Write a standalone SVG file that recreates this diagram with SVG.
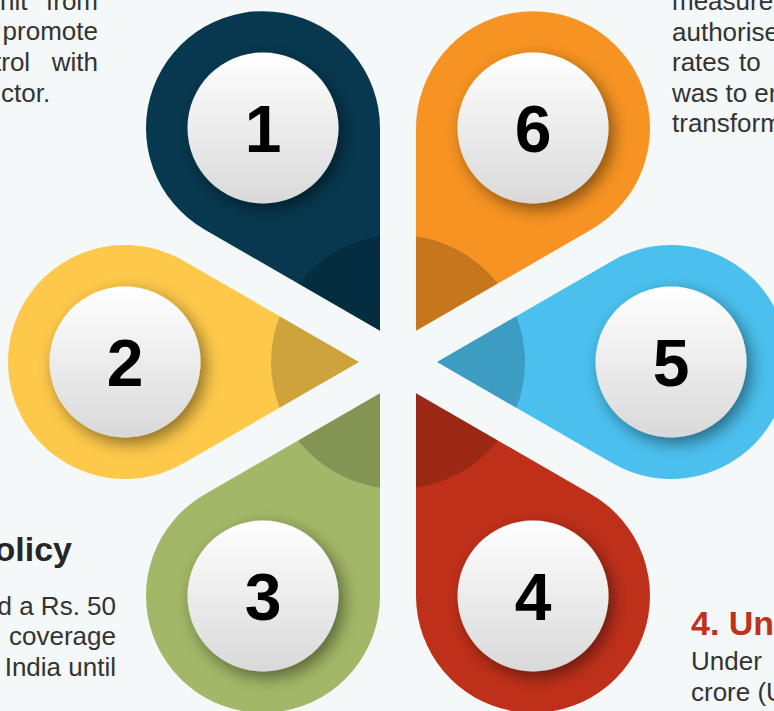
<svg xmlns="http://www.w3.org/2000/svg" width="774" height="711" viewBox="0 0 774 711">
  <defs>
    <style>
      .body { font-family: "Liberation Sans", Arial, sans-serif; font-size: 26px; fill: #333333; }
      .head { font-family: "Liberation Sans", Arial, sans-serif; font-size: 34px; font-weight: bold; }
      .num { font-family: "Liberation Sans", Arial, sans-serif; font-size: 66px; font-weight: bold; fill: #000000; text-anchor: middle; }
      .ball { fill: url(#ballGrad); filter: url(#shadow); }
    </style>
    <linearGradient id="ballGrad" x1="0" y1="0" x2="0" y2="1">
      <stop offset="0" stop-color="#ffffff"/>
      <stop offset="1" stop-color="#d9d9d9"/>
    </linearGradient>
    <filter id="shadow" x="-40%" y="-40%" width="180%" height="180%">
      <feDropShadow dx="5" dy="6" stdDeviation="8" flood-color="#000000" flood-opacity="0.45"/>
    </filter>
    <path id="p1" d="M380 330.82 L380 128.17 A117 117 0 1 0 204.5 229.49 Z"/>
    <path id="p2" d="M359 362 L183.5 260.67 A117 117 0 1 0 183.5 463.33 Z"/>
    <path id="p3" d="M380 393.18 L204.5 494.51 A117 117 0 1 0 380 595.83 Z"/>
    <path id="p4" d="M416 393.18 L416 595.83 A117 117 0 1 0 591.5 494.51 Z"/>
    <path id="p5" d="M437 362 L612.5 463.33 A117 117 0 1 0 612.5 260.67 Z"/>
    <path id="p6" d="M416 330.82 L591.5 229.49 A117 117 0 1 0 416 128.17 Z"/>
    <clipPath id="petals">
      <use href="#p1"/><use href="#p2"/><use href="#p3"/>
      <use href="#p4"/><use href="#p5"/><use href="#p6"/>
    </clipPath>
  </defs>

  <rect x="0" y="0" width="774" height="711" fill="#f4f8f9"/>

  <g id="petal-1">
    <use href="#p1" fill="#07384f"/>
  </g>
  <g id="petal-2">
    <use href="#p2" fill="#fec94a"/>
  </g>
  <g id="petal-3">
    <use href="#p3" fill="#a2b767"/>
  </g>
  <g id="petal-4">
    <use href="#p4" fill="#bf301a"/>
  </g>
  <g id="petal-5">
    <use href="#p5" fill="#4bc0ee"/>
  </g>
  <g id="petal-6">
    <use href="#p6" fill="#f69322"/>
  </g>

  <g id="hub-shade" clip-path="url(#petals)">
    <circle cx="398" cy="362" r="127" fill="#000000" fill-opacity="0.19"/>
  </g>

  <g id="node-1">
    <circle class="ball" cx="263" cy="128" r="75.5"/>
    <text class="num" x="263" y="152">1</text>
  </g>
  <g id="node-2">
    <circle class="ball" cx="125" cy="362" r="75.5"/>
    <text class="num" x="125" y="386">2</text>
  </g>
  <g id="node-3">
    <circle class="ball" cx="263" cy="596" r="75.5"/>
    <text class="num" x="263" y="620">3</text>
  </g>
  <g id="node-4">
    <circle class="ball" cx="533" cy="596" r="75.5"/>
    <text class="num" x="533" y="620">4</text>
  </g>
  <g id="node-5">
    <circle class="ball" cx="671" cy="362" r="75.5"/>
    <text class="num" x="671" y="386">5</text>
  </g>
  <g id="node-6">
    <circle class="ball" cx="533" cy="128" r="75.5"/>
    <text class="num" x="533" y="152">6</text>
  </g>

  <g id="text-top-left">
    <text class="body" x="0" y="10">nit</text>
    <text class="body" x="98" y="10" text-anchor="end">from</text>
    <text class="body" x="98" y="39.5" text-anchor="end">promote</text>
    <text class="body" x="-6" y="71">trol</text>
    <text class="body" x="98" y="71" text-anchor="end">with</text>
    <text class="body" x="1" y="101.5">ctor.</text>
  </g>

  <g id="text-top-right">
    <text class="body" x="672" y="10">measure</text>
    <text class="body" x="672" y="40.5">authorise</text>
    <text class="body" x="672" y="71">rates</text>
    <text class="body" x="739" y="71">to</text>
    <text class="body" x="672" y="101.5">was to en</text>
    <text class="body" x="672" y="132">transform</text>
  </g>

  <g id="text-bottom-left">
    <text class="head" x="72" y="561" text-anchor="end" fill="#262626">olicy</text>
    <text class="body" x="116" y="614.5" text-anchor="end">d a Rs. 50</text>
    <text class="body" x="116" y="645" text-anchor="end">coverage</text>
    <text class="body" x="116" y="675.5" text-anchor="end">India until</text>
  </g>

  <g id="text-bottom-right">
    <text class="head" x="691" y="635" fill="#c0311c">4. Un</text>
    <text class="body" x="691" y="670">Under</text>
    <text class="body" x="691" y="701">crore (U</text>
  </g>
</svg>
